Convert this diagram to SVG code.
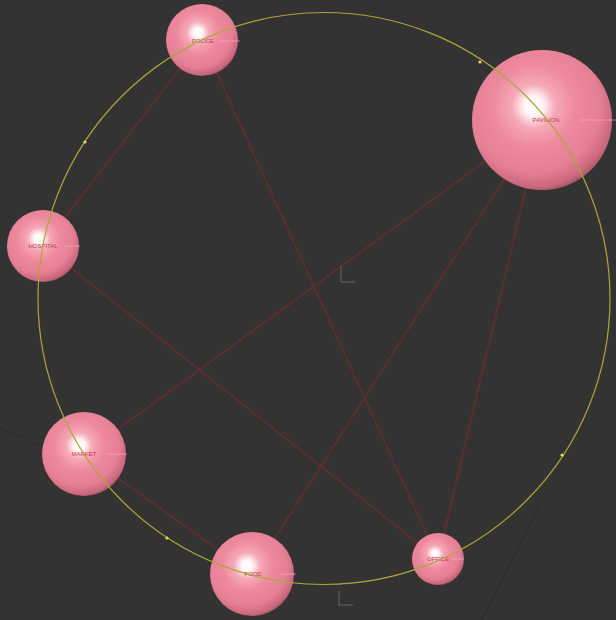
<svg xmlns="http://www.w3.org/2000/svg" width="616" height="620" viewBox="0 0 616 620">
<defs>
<radialGradient id="sph" cx="0.44" cy="0.4" r="0.66" fx="0.44" fy="0.4">
<stop offset="0" stop-color="#ffffff"/>
<stop offset="0.1" stop-color="#fff6f8"/>
<stop offset="0.24" stop-color="#f6a8b7"/>
<stop offset="0.45" stop-color="#ee8a9e"/>
<stop offset="0.72" stop-color="#e67f94"/>
<stop offset="0.88" stop-color="#c9677c"/>
<stop offset="1" stop-color="#7d3f4c"/>
</radialGradient>
<style>
.bg{fill:#333333}
.ring{fill:none;stroke:#a9a83a;stroke-width:1.2}
.edge{stroke:#5a2e33;stroke-width:2;fill:none}
.shadow{stroke:#2c2c2c;stroke-width:1;fill:none}
.ball{fill:url(#sph)}
.lbl{font-family:"Liberation Sans",Arial,sans-serif;font-size:6px;fill:#c0394a;text-anchor:middle}
.lead{stroke:#f3b8c0;stroke-width:1;opacity:0.6}
.dot{fill:#e0e060}
.axis{stroke:#666666;stroke-width:1;fill:none}
</style>
</defs>
<rect class="bg" width="616" height="620"/>
<g id="ground">
<line class="shadow" x1="0" y1="428" x2="42" y2="446"/>
<line class="shadow" x1="482" y1="620" x2="540" y2="505"/>
</g>
<g id="connectors">
<line class="edge" x1="202" y1="40" x2="43" y2="246"/>
<line class="edge" x1="202" y1="40" x2="438" y2="559"/>
<line class="edge" x1="542" y1="120" x2="84" y2="454"/>
<line class="edge" x1="542" y1="120" x2="252" y2="574"/>
<line class="edge" x1="542" y1="120" x2="438" y2="559"/>
<line class="edge" x1="43" y1="246" x2="438" y2="559"/>
<line class="edge" x1="84" y1="454" x2="252" y2="574"/>
</g>
<g id="axes">
<path class="axis" d="M341 266 V282 H355"/>
<path class="axis" d="M339 591 V605 H353"/>
</g>
<g id="node-police"><circle class="ball" cx="202" cy="40" r="36"/><line class="lead" x1="220" y1="41" x2="240" y2="41"/><text class="lbl" x="203" y="43">POLICE</text></g>
<g id="node-pavilion"><circle class="ball" cx="542" cy="120" r="70"/><line class="lead" x1="580" y1="120" x2="616" y2="120"/><text class="lbl" x="546" y="122">PAVILION</text></g>
<g id="node-hospital"><circle class="ball" cx="43" cy="246" r="36"/><line class="lead" x1="64" y1="246" x2="80" y2="246"/><text class="lbl" x="43" y="248">HOSPITAL</text></g>
<g id="node-market"><circle class="ball" cx="84" cy="454" r="42"/><line class="lead" x1="108" y1="454" x2="127" y2="454"/><text class="lbl" x="84" y="456">MARKET</text></g>
<g id="node-food"><circle class="ball" cx="252" cy="574" r="42"/><line class="lead" x1="280" y1="574" x2="296" y2="574"/><text class="lbl" x="253" y="576">FOOD</text></g>
<g id="node-office"><circle class="ball" cx="438" cy="559" r="26"/><line class="lead" x1="452" y1="559" x2="464" y2="559"/><text class="lbl" x="438" y="561">OFFICE</text></g>
<g id="ring">
<circle class="ring" cx="324" cy="298.5" r="286"/>
<circle class="dot" cx="85" cy="142" r="1.6"/>
<circle class="dot" cx="480" cy="62" r="1.6"/>
<circle class="dot" cx="167" cy="538" r="1.6"/>
<circle class="dot" cx="562" cy="455" r="1.6"/>
</g>
</svg>
